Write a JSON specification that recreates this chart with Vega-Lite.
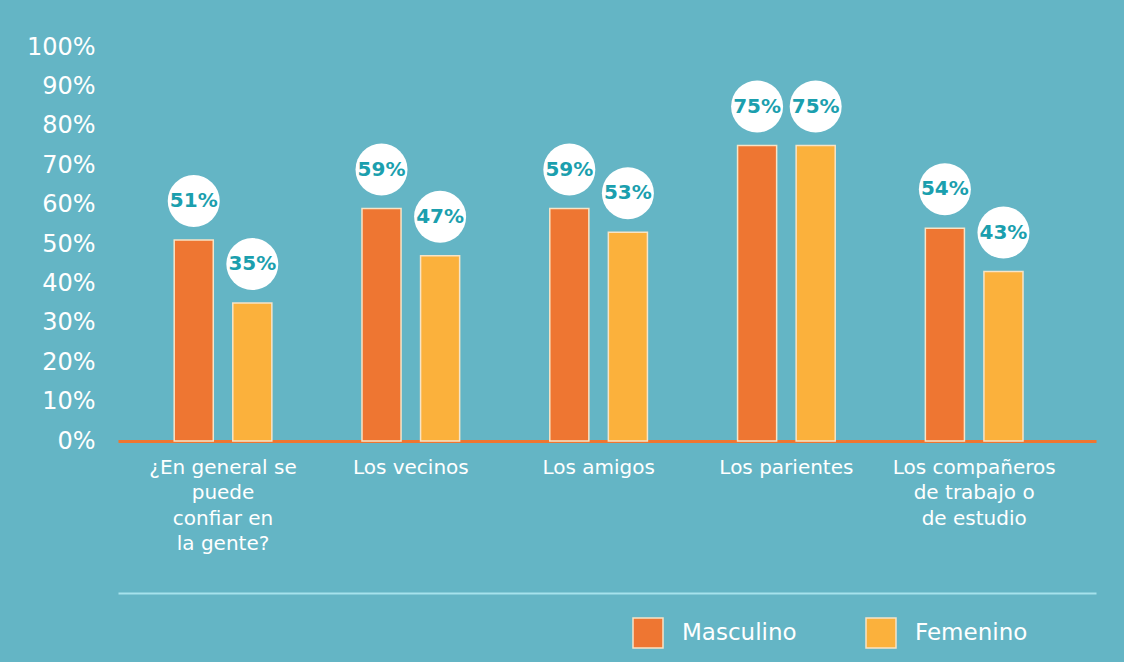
{
  "$schema": "https://vega.github.io/schema/vega-lite/v6.json",
  "autosize": "none",
  "padding": {"left": 118, "top": 47, "right": 28, "bottom": 221},
  "width": 978,
  "height": 394,
  "background": "#64b5c5",
  "config": {"view": {"stroke": null}, "font": "DejaVu Sans"},
  "data": {"values": [
    {"categoria": "¿En general se\npuede\nconfiar en\nla gente?", "sexo": "Masculino", "valor": 51, "etiqueta": "51%"},
    {"categoria": "¿En general se\npuede\nconfiar en\nla gente?", "sexo": "Femenino", "valor": 35, "etiqueta": "35%"},
    {"categoria": "Los vecinos", "sexo": "Masculino", "valor": 59, "etiqueta": "59%"},
    {"categoria": "Los vecinos", "sexo": "Femenino", "valor": 47, "etiqueta": "47%"},
    {"categoria": "Los amigos", "sexo": "Masculino", "valor": 59, "etiqueta": "59%"},
    {"categoria": "Los amigos", "sexo": "Femenino", "valor": 53, "etiqueta": "53%"},
    {"categoria": "Los parientes", "sexo": "Masculino", "valor": 75, "etiqueta": "75%"},
    {"categoria": "Los parientes", "sexo": "Femenino", "valor": 75, "etiqueta": "75%"},
    {"categoria": "Los compañeros\nde trabajo o\nde estudio", "sexo": "Masculino", "valor": 54, "etiqueta": "54%"},
    {"categoria": "Los compañeros\nde trabajo o\nde estudio", "sexo": "Femenino", "valor": 43, "etiqueta": "43%"}
  ]},
  "encoding": {
    "x": {"field": "categoria", "type": "nominal", "sort": null,
      "scale": {"paddingInner": 0.48, "paddingOuter": 0.344, "align": 0.435}},
    "xOffset": {"field": "sexo", "type": "nominal", "sort": ["Masculino", "Femenino"],
      "scale": {"paddingInner": 0.333, "paddingOuter": 0}},
    "y": {"field": "valor", "type": "quantitative",
      "scale": {"domain": [0, 100], "nice": false},
      "axis": {"values": [0,10,20,30,40,50,60,70,80,90,100], "labelExpr": "datum.value + '%'",
        "title": null, "domain": false, "ticks": false, "grid": false,
        "labelColor": "white", "labelFont": "DejaVu Sans", "labelFontSize": 24,
        "labelPadding": 23, "labelBaseline": "middle"}}
  },
  "layer": [
    {
      "mark": {"type": "bar", "stroke": "#f7e4c6", "strokeWidth": 1.5},
      "encoding": {
        "color": {"field": "sexo", "type": "nominal",
          "scale": {"domain": ["Masculino", "Femenino"], "range": ["#ee7632", "#fbb13c"]},
          "legend": {"orient": "none", "legendX": 514, "legendY": 570, "direction": "horizontal",
            "title": null, "symbolType": "square", "symbolSize": 900, "symbolOpacity": 1,
            "symbolStrokeColor": "#f7e4c6", "symbolStrokeWidth": 1.5,
            "labelFont": "DejaVu Sans", "labelFontSize": 23, "labelColor": "white",
            "labelOffset": 18, "columnPadding": 66, "padding": 0}},
        "x": {"field": "categoria", "type": "nominal", "sort": null,
          "axis": {"title": null, "labelAngle": 0, "ticks": false, "grid": false,
            "domainColor": "#ef7530", "domainWidth": 3,
            "labelExpr": "split(datum.label, '\\n')",
            "labelColor": "white", "labelFont": "DejaVu Sans", "labelFontSize": 20,
            "labelLineHeight": 25.5, "labelPadding": 16, "labelLimit": 0,
            "labelAlign": "center", "labelBaseline": "top"}}
      }
    },
    {
      "mark": {"type": "point", "shape": "circle", "filled": true, "color": "white", "opacity": 1, "size": 2704, "yOffset": -39},
      "encoding": {
        "x": {"field": "categoria", "type": "nominal", "sort": null,
          "axis": {"orient": "bottom", "offset": 152, "title": null, "labels": false, "ticks": false,
            "grid": false, "domainColor": "#a6e2ec", "domainWidth": 2}}
      }
    },
    {
      "mark": {"type": "text", "yOffset": -39, "color": "#1b9fae", "font": "DejaVu Sans", "fontWeight": "bold", "fontSize": 20, "baseline": "middle", "align": "center"},
      "encoding": {
        "x": {"field": "categoria", "type": "nominal", "sort": null, "axis": null},
        "text": {"field": "etiqueta", "type": "nominal"}
      }
    }
  ],
  "resolve": {"axis": {"x": "independent"}}
}
